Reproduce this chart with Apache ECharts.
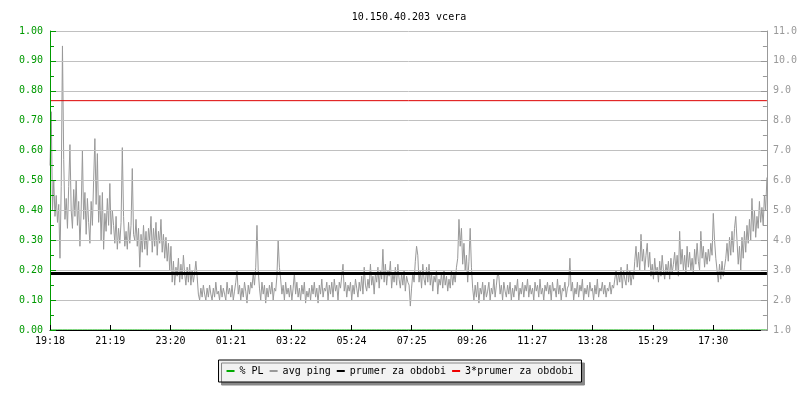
<!DOCTYPE html>
<html>
<head>
<meta charset="utf-8">
<script src="https://cdn.jsdelivr.net/npm/echarts@6/dist/echarts.min.js"></script>
<style>html,body{margin:0;padding:0;background:#fff}#c{width:800px;height:400px}</style>
</head>
<body>
<div id="c"></div>
<script>
// time ticks (every ~121 minutes from 19:18)
const xTickLabels = ['19:18','21:19','23:20','01:21','03:22','05:24','07:25','09:26','11:27','13:28','15:29','17:30'];
const leftTickLabels = ['0.00','0.10','0.20','0.30','0.40','0.50','0.60','0.70','0.80','0.90','1.00'];
const rightTickLabels = ['1.0','2.0','3.0','4.0','5.0','6.0','7.0','8.0','9.0','10.0','11.0'];
// avg ping (ms), evenly sampled over the whole 24 h period
const avgPing = [
6.5,8.3,5.0,6.0,4.8,5.5,4.6,5.2,3.4,5.8,10.5,6.7,4.7,5.4,4.4,5.8,
7.2,5.0,4.4,5.7,4.8,6.0,4.5,5.3,3.8,5.0,7.0,4.7,5.6,4.2,5.4,4.6,
3.9,5.3,4.5,6.0,7.4,5.2,6.9,4.6,5.5,4.0,5.6,3.7,4.9,4.3,5.4,4.5,
5.9,4.2,5.0,4.5,3.9,4.8,3.7,4.4,3.9,4.6,7.1,4.8,3.8,4.3,3.7,4.6,
3.9,4.5,6.4,4.2,4.0,4.7,3.8,4.4,3.1,4.2,3.6,4.5,3.7,4.3,3.5,4.4,
4.0,4.8,3.6,4.4,3.8,4.6,3.5,4.3,3.9,4.7,3.6,4.2,3.4,4.1,3.3,3.9,
3.0,3.8,2.6,3.3,2.5,3.1,2.8,3.4,2.6,3.2,2.7,3.5,2.9,2.5,3.1,2.6,
3.2,2.5,3.0,2.6,2.9,3.3,2.8,2.2,2.0,2.4,2.1,2.5,2.2,2.0,2.4,2.1,
2.5,2.2,2.0,2.4,2.1,2.6,2.2,2.3,2.0,2.5,2.1,2.4,2.2,2.0,2.6,2.2,
2.4,2.1,2.5,2.0,2.3,2.6,3.0,2.2,2.5,2.0,2.4,2.1,2.6,2.3,1.9,2.5,
2.2,2.6,2.4,2.9,2.5,3.1,4.5,3.0,2.4,2.0,2.6,2.2,2.5,1.9,2.4,2.1,
2.5,2.2,2.6,2.0,2.4,2.3,2.8,4.0,3.1,2.7,2.2,2.5,2.0,2.6,2.2,2.4,
2.1,2.5,2.0,2.4,2.9,2.2,2.6,2.1,2.4,2.0,2.5,2.2,2.6,1.9,2.3,2.1,
2.4,2.0,2.5,2.2,2.6,2.1,2.4,1.9,2.5,2.2,2.7,2.1,2.4,2.3,2.6,2.0,
2.5,2.2,2.6,2.1,2.7,2.3,2.5,2.0,2.6,2.4,2.8,3.2,2.3,2.6,2.1,2.5,
2.3,2.6,2.0,2.5,2.2,2.7,2.4,2.1,2.6,2.3,2.8,2.2,3.1,2.5,2.3,2.7,
2.4,3.2,2.5,2.8,2.2,2.9,2.6,3.1,2.4,3.0,2.7,3.7,2.6,3.2,2.5,3.0,
2.8,3.3,2.4,2.9,2.6,3.1,2.5,3.2,2.7,2.4,2.9,2.5,3.0,2.3,2.8,2.6,
2.5,1.8,2.4,2.9,2.6,3.3,3.8,3.5,2.6,3.0,2.4,3.2,2.7,2.5,3.1,2.6,
3.2,2.5,2.9,2.3,2.8,2.6,3.0,2.2,2.7,2.5,2.9,2.4,3.0,2.5,2.8,2.3,
2.7,2.4,3.0,2.5,2.9,2.6,3.1,3.4,4.7,3.8,4.4,3.2,3.9,3.0,3.5,2.6,
3.3,4.4,3.1,2.4,2.0,2.5,2.1,2.6,1.9,2.4,2.2,2.6,2.0,2.5,2.1,2.3,
2.6,2.0,2.4,2.2,2.7,2.1,2.5,2.9,2.8,2.2,2.5,2.0,2.6,2.3,2.1,2.5,
2.2,2.6,2.0,2.4,2.1,2.5,2.3,2.7,2.0,2.4,2.2,2.6,2.1,2.5,2.3,2.7,
2.1,2.5,2.2,2.4,2.0,2.6,2.3,2.5,2.1,2.7,2.2,2.4,2.0,2.5,2.3,2.6,
2.2,2.5,2.0,2.6,2.3,2.4,2.1,2.7,2.2,2.5,2.0,2.4,2.3,2.6,2.1,2.4,
2.5,3.4,2.3,2.6,2.0,2.4,2.2,2.6,2.1,2.5,2.3,2.7,2.0,2.4,2.2,2.5,
2.1,2.6,2.3,2.4,2.0,2.5,2.2,2.7,2.1,2.4,2.3,2.6,2.2,2.5,2.1,2.4,
2.3,2.6,2.2,2.5,2.4,2.7,3.0,2.5,2.9,2.6,3.1,2.4,3.0,2.7,2.5,3.2,
2.6,3.0,2.5,2.9,2.7,3.3,3.8,3.1,3.6,3.0,4.2,3.3,3.7,3.0,3.5,3.9,
3.1,3.6,2.8,3.2,2.7,3.4,2.9,3.1,2.6,3.3,2.8,3.5,3.0,2.7,3.2,2.9,
3.3,2.7,3.4,2.9,3.2,3.6,3.0,3.5,2.8,4.3,3.2,3.7,3.0,3.5,2.9,3.8,
3.1,3.6,3.0,3.4,2.9,3.7,3.2,3.9,3.3,3.0,4.3,3.4,3.8,3.1,3.6,3.2,
3.7,3.3,3.9,3.5,4.9,4.0,3.4,3.0,2.6,3.2,2.7,3.3,2.8,3.1,3.4,3.9,
3.3,4.1,3.5,4.3,3.6,4.4,4.8,4.0,3.2,3.8,3.0,4.1,3.4,4.3,3.6,4.5,
3.9,4.7,4.0,5.4,4.3,5.0,4.1,4.8,4.4,5.3,4.6,5.1,4.5,5.5,5.0,6.1
];
const packetLoss = avgPing.map(() => 0);
const meanPing = 2.89;
const tripleMean = 8.67;
const xInterval = 1332 / 11;   // minutes between time ticks (19:18 .. 17:30)
const totalMinutes = 1440;     // 24 h period
const stepMinutes = totalMinutes / (avgPing.length - 1);

const pingData = avgPing.map((v, i) => [i * stepMinutes, v]);
const plData = packetLoss.map((v, i) => [i * stepMinutes, v]);

const mono = 'DejaVu Sans Mono';
const green = '#009900';
const chart = echarts.init(document.getElementById('c'), null, {renderer: 'canvas'});
chart.setOption({
  animation: false,
  backgroundColor: '#ffffff',
  title: {
    text: '10.150.40.203 vcera', left: 404, textAlign: 'center', top: 7,
    textStyle: {fontFamily: mono, fontSize: 10, fontWeight: 'normal', color: '#000'}
  },
  grid: {left: 50, right: 30, top: 31, bottom: 70},
  legend: {
    left: 'center', top: 360,
    data: ['% PL', 'avg ping', 'prumer za obdobi', '3*prumer za obdobi'],
    icon: 'rect', itemWidth: 8, itemHeight: 2, itemGap: 6,
    padding: [6, 8],
    backgroundColor: '#f2f2f2', borderColor: '#000', borderWidth: 1, borderRadius: 0,
    shadowColor: '#888', shadowOffsetX: 3, shadowOffsetY: 3, shadowBlur: 0,
    textStyle: {fontFamily: mono, fontSize: 10, color: '#000'}
  },
  xAxis: {
    type: 'value', min: 0, max: totalMinutes, interval: xInterval, z: 5,
    axisLine: {lineStyle: {color: '#000', width: 1}},
    axisTick: {inside: true, length: 5, lineStyle: {color: '#000'}},
    axisLabel: {
      fontFamily: mono, fontSize: 10, color: '#000', margin: 6, showMaxLabel: false,
      formatter: v => { const k = Math.round(v / xInterval); return Math.abs(k * xInterval - v) < 0.5 ? (xTickLabels[k] || '') : ''; }
    },
    splitLine: {show: false}
  },
  yAxis: [
    {
      type: 'value', min: 0, max: 1, interval: 0.1, position: 'left', z: 5,
      axisLine: {show: true, lineStyle: {color: green, width: 1}},
      axisTick: {show: true, inside: true, length: 6, lineStyle: {color: green}},
      minorTick: {show: true, splitNumber: 2, length: 4, lineStyle: {color: green}},
      axisLabel: {fontFamily: mono, fontSize: 10, color: green, margin: 7,
        formatter: v => leftTickLabels[Math.round(v * 10)]},
      splitLine: {show: true, lineStyle: {color: '#c0c0c0', width: 1}}
    },
    {
      type: 'value', min: 1, max: 11, interval: 1, position: 'right', z: 5,
      axisLine: {show: true, lineStyle: {color: '#999', width: 1}},
      axisTick: {show: true, inside: true, length: 6, lineStyle: {color: '#999'}},
      minorTick: {show: true, splitNumber: 2, length: 4, lineStyle: {color: '#999'}},
      axisLabel: {fontFamily: mono, fontSize: 10, color: '#999', margin: 6,
        formatter: v => rightTickLabels[Math.round(v - 1)]},
      splitLine: {show: false}
    }
  ],
  series: [
    {name: '% PL', type: 'line', yAxisIndex: 0, data: plData, symbol: 'none', z: 0,
      color: '#00aa00', lineStyle: {width: 1, color: '#00aa00'}},
    {name: 'avg ping', type: 'line', yAxisIndex: 1, data: pingData, symbol: 'none',
      color: '#999999', lineStyle: {width: 1, color: '#999999'}},
    {name: 'prumer za obdobi', type: 'line', yAxisIndex: 1, symbol: 'none',
      data: [[0, meanPing], [totalMinutes, meanPing]],
      color: '#000', lineStyle: {width: 3, color: '#000'}},
    {name: '3*prumer za obdobi', type: 'line', yAxisIndex: 1, symbol: 'none',
      data: [[0, tripleMean], [totalMinutes, tripleMean]],
      color: '#ee0000', lineStyle: {width: 1, color: '#dd0000'}}
  ]
});
</script>
</body>
</html>
